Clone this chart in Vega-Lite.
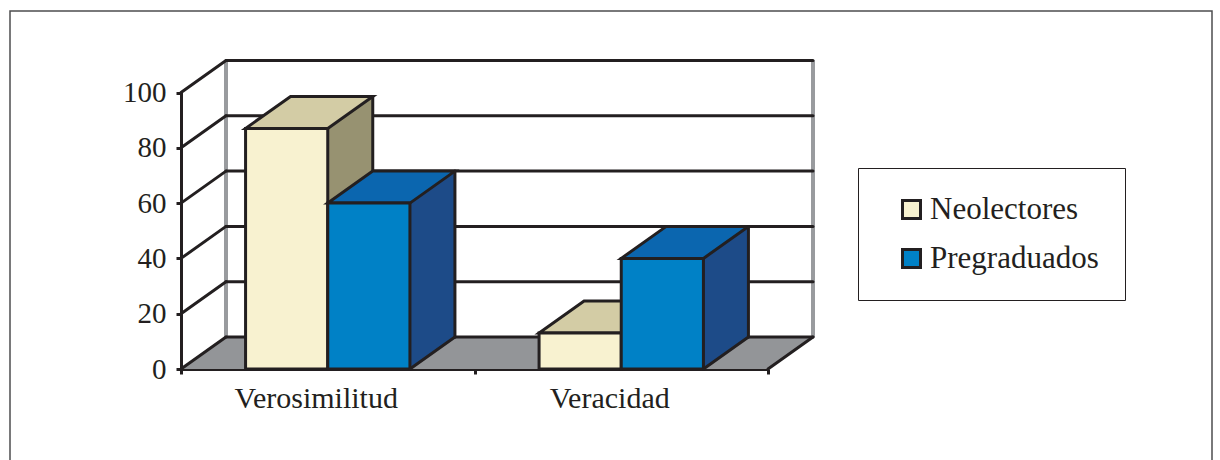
{
  "$schema": "https://vega.github.io/schema/vega-lite/v6.json",
  "autosize": "none",
  "padding": {"left": 10, "top": 11, "right": 8, "bottom": 0},
  "width": 1202,
  "height": 460,
  "background": "white",
  "config": {
    "view": {"stroke": "#4d4d4f", "strokeWidth": 1.5},
    "font": "Liberation Serif"
  },
  "datasets": {
    "resultados": [
      {"categoria": "Verosimilitud", "serie": "Neolectores", "valor": 87},
      {"categoria": "Verosimilitud", "serie": "Pregraduados", "valor": 60},
      {"categoria": "Veracidad", "serie": "Neolectores", "valor": 13},
      {"categoria": "Veracidad", "serie": "Pregraduados", "valor": 40}
    ],
    "marcas": [{"v": 0}, {"v": 20}, {"v": 40}, {"v": 60}, {"v": 80}, {"v": 100}],
    "uno": [{}]
  },
  "layer": [
    {
      "data": {"name": "uno"},
      "mark": {"type": "rule", "color": "#999b9e", "strokeWidth": 4, "xOffset": 45, "yOffset": -32, "y2Offset": -32},
      "encoding": {
        "x": {
          "datum": "Verosimilitud", "type": "nominal", "bandPosition": 0,
          "scale": {"type": "band", "domain": ["Verosimilitud", "Veracidad"], "range": [171, 758], "paddingInner": 0, "paddingOuter": 0},
          "axis": {
            "title": null, "offset": -102, "labelAngle": 0, "tickBand": "extent", "labelOffset": -12,
            "domainColor": "#231f20", "domainWidth": 3, "tickColor": "#231f20", "tickWidth": 3, "tickSize": 5,
            "labelFont": "Liberation Serif", "labelFontSize": 30, "labelColor": "#231f20", "labelPadding": 9,
            "grid": false
          }
        },
        "y": {
          "datum": 0, "type": "quantitative",
          "scale": {"domain": [0, 100], "range": [358, 81.5], "nice": false, "zero": true},
          "axis": {
            "title": null, "offset": -171, "values": [0, 20, 40, 60, 80, 100], "grid": false,
            "domainColor": "#231f20", "domainWidth": 3, "tickColor": "#231f20", "tickWidth": 3, "tickSize": 5,
            "labelFont": "Liberation Serif", "labelFontSize": 29, "labelColor": "#231f20", "labelPadding": 10
          }
        },
        "y2": {"datum": 100}
      }
    },
    {
      "data": {"name": "uno"},
      "mark": {"type": "rule", "color": "#999b9e", "strokeWidth": 4, "xOffset": 45, "yOffset": -32, "y2Offset": -32},
      "encoding": {
        "x": {"datum": "Veracidad", "type": "nominal", "bandPosition": 1},
        "y": {"datum": 0, "type": "quantitative"},
        "y2": {"datum": 100}
      }
    },
    {
      "data": {"name": "uno"},
      "mark": {"type": "rect", "fill": "#939598", "xOffset": 45, "yOffset": -32},
      "encoding": {
        "x": {"datum": "Verosimilitud", "type": "nominal", "bandPosition": 0},
        "x2": {"datum": "Veracidad", "bandPosition": 1},
        "y": {"datum": 0, "type": "quantitative"},
        "y2": {"datum": 0}
      }
    },
    {
      "data": {"name": "uno"},
      "mark": {"type": "point", "shape": "M0,0 L45,-32 L45,0 Z", "size": 4, "filled": true, "fill": "#939598", "opacity": 1},
      "encoding": {
        "x": {"datum": "Verosimilitud", "type": "nominal", "bandPosition": 0},
        "y": {"datum": 0, "type": "quantitative"}
      }
    },
    {
      "data": {"name": "uno"},
      "mark": {"type": "point", "shape": "M0,0 L0,-32 L45,-32 Z", "size": 4, "filled": true, "fill": "#939598", "opacity": 1},
      "encoding": {
        "x": {"datum": "Veracidad", "type": "nominal", "bandPosition": 1},
        "y": {"datum": 0, "type": "quantitative"}
      }
    },
    {
      "data": {"name": "marcas"},
      "mark": {"type": "rule", "color": "#231f20", "strokeWidth": 3, "strokeCap": "round", "xOffset": 45, "x2Offset": 45, "yOffset": -32},
      "encoding": {
        "x": {"datum": "Verosimilitud", "type": "nominal", "bandPosition": 0},
        "x2": {"datum": "Veracidad", "bandPosition": 1},
        "y": {"field": "v", "type": "quantitative"}
      }
    },
    {
      "data": {"name": "marcas"},
      "mark": {"type": "rule", "color": "#231f20", "strokeWidth": 3, "strokeCap": "round", "x2Offset": 45, "y2Offset": -32},
      "encoding": {
        "x": {"datum": "Verosimilitud", "type": "nominal", "bandPosition": 0},
        "x2": {"datum": "Verosimilitud", "bandPosition": 0},
        "y": {"field": "v", "type": "quantitative"},
        "y2": {"field": "v"}
      }
    },
    {
      "data": {"name": "uno"},
      "mark": {"type": "rule", "color": "#231f20", "strokeWidth": 3, "strokeCap": "round", "x2Offset": 45, "y2Offset": -32},
      "encoding": {
        "x": {"datum": "Veracidad", "type": "nominal", "bandPosition": 1},
        "x2": {"datum": "Veracidad", "bandPosition": 1},
        "y": {"datum": 0, "type": "quantitative"},
        "y2": {"datum": 0}
      }
    },

    {
      "data": {"name": "resultados"},
      "transform": [{"filter": "datum.serie === 'Neolectores'"}],
      "mark": {"type": "rect", "fill": "#979271", "xOffset": 45, "x2Offset": 45, "yOffset": -32, "y2Offset": -32},
      "encoding": {
        "x": {"field": "categoria", "type": "nominal", "bandPosition": 0.22},
        "x2": {"field": "categoria", "bandPosition": 0.5},
        "y": {"field": "valor", "type": "quantitative"},
        "y2": {"datum": 0}
      }
    },
    {
      "data": {"name": "resultados"},
      "transform": [{"filter": "datum.serie === 'Neolectores'"}],
      "mark": {"type": "point", "shape": "M0,0 L0,-32 L45,-32 Z", "size": 4, "filled": true, "fill": "#979271", "opacity": 1},
      "encoding": {
        "x": {"field": "categoria", "type": "nominal", "bandPosition": 0.5},
        "y": {"datum": 0, "type": "quantitative"}
      }
    },
    {
      "data": {"name": "resultados"},
      "transform": [{"filter": "datum.serie === 'Neolectores'"}],
      "mark": {"type": "point", "shape": "M0,0 L82.2,0 L127.2,-32 L45,-32 Z", "size": 4, "filled": true, "fill": "#d3cca5", "stroke": "#231f20", "strokeWidth": 3, "opacity": 1},
      "encoding": {
        "x": {"field": "categoria", "type": "nominal", "bandPosition": 0.22},
        "y": {"field": "valor", "type": "quantitative"}
      }
    },
    {
      "data": {"name": "resultados"},
      "transform": [{"filter": "datum.serie === 'Neolectores'"}],
      "mark": {"type": "rect", "stroke": "#231f20", "strokeWidth": 3, "opacity": 1},
      "encoding": {
        "x": {"field": "categoria", "type": "nominal", "bandPosition": 0.22},
        "x2": {"field": "categoria", "bandPosition": 0.5},
        "y": {"field": "valor", "type": "quantitative"},
        "y2": {"datum": 0},
        "color": {
          "field": "serie", "type": "nominal",
          "scale": {"domain": ["Neolectores", "Pregraduados"], "range": ["#f8f2d0", "#0081c6"]},
          "legend": {
            "title": null, "orient": "none", "legendX": 848, "legendY": 157, "padding": 26,
            "fillColor": "white", "strokeColor": "#231f20",
            "labelFont": "Liberation Serif", "labelFontSize": 31, "labelColor": "#231f20", "labelLimit": 400,
            "symbolType": "square", "symbolSize": 324, "symbolStrokeColor": "#231f20", "symbolStrokeWidth": 3,
            "symbolOffset": 12, "labelOffset": 3, "rowPadding": 17
          }
        }
      }
    },
    {
      "data": {"name": "resultados"},
      "transform": [{"filter": "datum.serie === 'Neolectores'"}],
      "mark": {"type": "rule", "color": "#231f20", "strokeWidth": 3, "strokeCap": "round", "xOffset": 45, "yOffset": -32, "y2Offset": -32},
      "encoding": {
        "x": {"field": "categoria", "type": "nominal", "bandPosition": 0.5},
        "y": {"field": "valor", "type": "quantitative"},
        "y2": {"datum": 0}
      }
    },
    {
      "data": {"name": "resultados"},
      "transform": [{"filter": "datum.serie === 'Neolectores'"}],
      "mark": {"type": "rule", "color": "#231f20", "strokeWidth": 3, "strokeCap": "round", "x2Offset": 45, "y2Offset": -32},
      "encoding": {
        "x": {"field": "categoria", "type": "nominal", "bandPosition": 0.5},
        "x2": {"field": "categoria", "bandPosition": 0.5},
        "y": {"datum": 0, "type": "quantitative"},
        "y2": {"datum": 0}
      }
    },

    {
      "data": {"name": "resultados"},
      "transform": [{"filter": "datum.serie === 'Pregraduados'"}],
      "mark": {"type": "rect", "fill": "#1d4b88", "xOffset": 45, "x2Offset": 45, "yOffset": -32, "y2Offset": -32},
      "encoding": {
        "x": {"field": "categoria", "type": "nominal", "bandPosition": 0.5},
        "x2": {"field": "categoria", "bandPosition": 0.78},
        "y": {"field": "valor", "type": "quantitative"},
        "y2": {"datum": 0}
      }
    },
    {
      "data": {"name": "resultados"},
      "transform": [{"filter": "datum.serie === 'Pregraduados'"}],
      "mark": {"type": "point", "shape": "M0,0 L0,-32 L45,-32 Z", "size": 4, "filled": true, "fill": "#1d4b88", "opacity": 1},
      "encoding": {
        "x": {"field": "categoria", "type": "nominal", "bandPosition": 0.78},
        "y": {"datum": 0, "type": "quantitative"}
      }
    },
    {
      "data": {"name": "resultados"},
      "transform": [{"filter": "datum.serie === 'Pregraduados'"}],
      "mark": {"type": "point", "shape": "M0,0 L82.2,0 L127.2,-32 L45,-32 Z", "size": 4, "filled": true, "fill": "#0b66af", "stroke": "#231f20", "strokeWidth": 3, "opacity": 1},
      "encoding": {
        "x": {"field": "categoria", "type": "nominal", "bandPosition": 0.5},
        "y": {"field": "valor", "type": "quantitative"}
      }
    },
    {
      "data": {"name": "resultados"},
      "transform": [{"filter": "datum.serie === 'Pregraduados'"}],
      "mark": {"type": "rect", "stroke": "#231f20", "strokeWidth": 3, "opacity": 1},
      "encoding": {
        "x": {"field": "categoria", "type": "nominal", "bandPosition": 0.5},
        "x2": {"field": "categoria", "bandPosition": 0.78},
        "y": {"field": "valor", "type": "quantitative"},
        "y2": {"datum": 0},
        "color": {"field": "serie", "type": "nominal"}
      }
    },
    {
      "data": {"name": "resultados"},
      "transform": [{"filter": "datum.serie === 'Pregraduados'"}],
      "mark": {"type": "rule", "color": "#231f20", "strokeWidth": 3, "strokeCap": "round", "xOffset": 45, "yOffset": -32, "y2Offset": -32},
      "encoding": {
        "x": {"field": "categoria", "type": "nominal", "bandPosition": 0.78},
        "y": {"field": "valor", "type": "quantitative"},
        "y2": {"datum": 0}
      }
    },
    {
      "data": {"name": "resultados"},
      "transform": [{"filter": "datum.serie === 'Pregraduados'"}],
      "mark": {"type": "rule", "color": "#231f20", "strokeWidth": 3, "strokeCap": "round", "x2Offset": 45, "y2Offset": -32},
      "encoding": {
        "x": {"field": "categoria", "type": "nominal", "bandPosition": 0.78},
        "x2": {"field": "categoria", "bandPosition": 0.78},
        "y": {"datum": 0, "type": "quantitative"},
        "y2": {"datum": 0}
      }
    }
  ]
}
